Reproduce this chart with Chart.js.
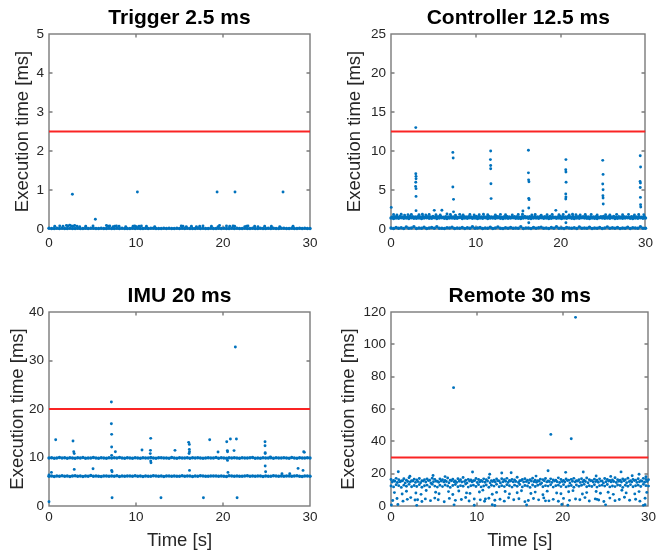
<!DOCTYPE html>
<html>
<head>
<meta charset="utf-8">
<title>Task execution times</title>
<script src="https://cdn.jsdelivr.net/npm/chart.js@4/dist/chart.umd.min.js"></script>
<style>
  html, body { margin: 0; padding: 0; background: #fff; }
  #wrap { position: relative; width: 659px; height: 556px; }
  #wrap canvas { position: absolute; }
</style>
</head>
<body>
<div id="wrap">
  <canvas id="trigger" width="330" height="278" style="left:0;top:0"></canvas>
  <canvas id="controller" width="329" height="278" style="left:330px;top:0"></canvas>
  <canvas id="imu" width="330" height="278" style="left:0;top:278px"></canvas>
  <canvas id="remote" width="329" height="278" style="left:330px;top:278px"></canvas>
</div>
<script>
// ---- sampling instants used for the steady bands [s] ----
const sampleTimes = [0,0.3,0.6,0.9,1.2,1.5,1.8,2.1,2.4,2.7,3,3.3,3.6,3.9,4.2,4.5,4.8,5.1,5.4,5.7,6,6.3,6.6,6.9,7.2,7.5,7.8,8.1,8.4,8.7,9,9.3,9.6,9.9,10.2,10.5,10.8,11.1,11.4,11.7,12,12.3,12.6,12.9,13.2,13.5,13.8,14.1,14.4,14.7,15,15.3,15.6,15.9,16.2,16.5,16.8,17.1,17.4,17.7,18,18.3,18.6,18.9,19.2,19.5,19.8,20.1,20.4,20.7,21,21.3,21.6,21.9,22.2,22.5,22.8,23.1,23.4,23.7,24,24.3,24.6,24.9,25.2,25.5,25.8,26.1,26.4,26.7,27,27.3,27.6,27.9,28.2,28.5,28.8,29.1,29.4,29.7,30];
const sampleTimesB = [0.15,0.45,0.75,1.05,1.35,1.65,1.95,2.25,2.55,2.85,3.15,3.45,3.75,4.05,4.35,4.65,4.95,5.25,5.55,5.85,6.15,6.45,6.75,7.05,7.35,7.65,7.95,8.25,8.55,8.85,9.15,9.45,9.75,10.05,10.35,10.65,10.95,11.25,11.55,11.85,12.15,12.45,12.75,13.05,13.35,13.65,13.95,14.25,14.55,14.85,15.15,15.45,15.75,16.05,16.35,16.65,16.95,17.25,17.55,17.85,18.15,18.45,18.75,19.05,19.35,19.65,19.95,20.25,20.55,20.85,21.15,21.45,21.75,22.05,22.35,22.65,22.95,23.25,23.55,23.85,24.15,24.45,24.75,25.05,25.35,25.65,25.95,26.25,26.55,26.85,27.15,27.45,27.75,28.05,28.35,28.65,28.95,29.25,29.55,29.85];

// ---- Trigger task (deadline 2.5 ms) ----
const triggerDeadline = 2.5;
const triggerBand = [0.02,0.01,0.01,0.02,0.01,0.02,0.01,0.01,0.02,0.01,0.01,0.02,0.01,0.01,0.02,0.01,0.02,0.02,0.01,0.01,0.02,0.01,0.01,0.02,0.01,0.01,0.02,0.01,0.02,0.01,0.01,0.01,0.02,0.01,0.02,0.01,0.01,0.02,0.01,0.02,0.02,0.01,0.01,0.01,0.02,0.01,0.02,0.01,0.01,0.02,0.01,0.02,0.01,0.02,0.01,0.01,0.01,0.02,0.01,0.02,0.01,0.01,0.02,0.01,0.01,0.02,0.01,0.02,0.01,0.01,0.02,0.01,0.02,0.01,0.01,0.02,0.01,0.01,0.02,0.01,0.01,0.02,0.01,0.01,0.02,0.01,0.02,0.01,0.01,0.02,0.02,0.01,0.01,0.02,0.01,0.01,0.02,0.01,0.02,0.01,0.01];
const triggerOutT = [0.66,1.23,1.61,2.0,2.18,2.38,2.57,2.76,2.95,3.22,3.53,4.22,5.06,6.6,6.78,6.98,7.36,7.55,7.75,8.05,8.82,9.66,9.85,10.05,10.35,10.62,11.2,12.15,15.2,15.4,15.78,16.37,16.94,17.32,17.7,18.67,19.43,19.6,20.4,20.77,21.15,21.34,22.5,22.7,22.87,23.64,24.02,24.79,25.56,26.52,28.05,2.69,10.16,19.32,21.38,26.9,5.33];
const triggerOutV = [0.07,0.08,0.07,0.09,0.08,0.1,0.08,0.07,0.09,0.07,0.06,0.07,0.08,0.09,0.07,0.08,0.06,0.07,0.08,0.07,0.06,0.07,0.08,0.06,0.07,0.08,0.07,0.06,0.08,0.07,0.06,0.07,0.06,0.07,0.08,0.07,0.06,0.09,0.08,0.07,0.08,0.07,0.06,0.07,0.08,0.07,0.06,0.07,0.07,0.06,0.07,0.89,0.95,0.95,0.95,0.95,0.25];

// ---- Controller task (deadline 12.5 ms) ----
const controllerDeadline = 12.5;
const controllerLow = [0.12,0.08,0.2,0.1,0.15,0.06,0.25,0.1,0.12,0.3,0.08,0.14,0.1,0.22,0.07,0.12,0.18,0.09,0.28,0.11,0.1,0.06,0.16,0.12,0.24,0.08,0.13,0.1,0.2,0.07,0.15,0.11,0.3,0.09,0.12,0.18,0.06,0.14,0.1,0.22,0.08,0.12,0.26,0.1,0.07,0.16,0.11,0.2,0.09,0.13,0.1,0.28,0.08,0.14,0.12,0.06,0.19,0.1,0.15,0.24,0.09,0.12,0.07,0.18,0.11,0.3,0.1,0.14,0.08,0.2,0.12,0.09,0.16,0.06,0.25,0.11,0.13,0.1,0.22,0.08,0.14,0.1,0.18,0.07,0.12,0.27,0.09,0.15,0.11,0.2,0.08,0.13,0.1,0.24,0.06,0.16,0.12,0.09,0.3,0.11,0.1];
const controllerMidA = [1.4,1.36,1.42,1.38,1.44,1.37,1.41,1.35,1.43,1.39,1.38,1.42,1.36,1.4,1.45,1.37,1.39,1.43,1.36,1.41,1.44,1.38,1.35,1.4,1.42,1.37,1.39,1.46,1.36,1.41,1.39,1.43,1.37,1.4,1.35,1.42,1.38,1.44,1.36,1.4,1.41,1.37,1.43,1.39,1.36,1.42,1.38,1.4,1.45,1.37,1.39,1.35,1.41,1.43,1.38,1.36,1.4,1.42,1.37,1.44,1.38,1.41,1.36,1.39,1.43,1.37,1.4,1.35,1.42,1.38,1.44,1.39,1.36,1.41,1.37,1.43,1.4,1.38,1.35,1.42,1.39,1.36,1.44,1.4,1.37,1.41,1.38,1.43,1.36,1.39,1.42,1.37,1.4,1.45,1.38,1.36,1.41,1.39,1.43,1.37,1.4];
const controllerMidB = [1.55,1.58,1.52,1.6,1.54,1.57,1.51,1.59,1.56,1.53,1.58,1.54,1.61,1.52,1.57,1.55,1.6,1.53,1.56,1.59,1.52,1.57,1.55,1.6,1.54,1.58,1.51,1.56,1.59,1.53,1.57,1.55,1.52,1.6,1.56,1.54,1.58,1.53,1.61,1.55,1.54,1.59,1.56,1.52,1.57,1.6,1.55,1.53,1.58,1.56,1.51,1.57,1.59,1.54,1.56,1.52,1.6,1.55,1.58,1.53,1.56,1.54,1.61,1.57,1.52,1.55,1.59,1.56,1.53,1.58,1.55,1.6,1.52,1.57,1.54,1.56,1.59,1.53,1.57,1.55,1.58,1.52,1.56,1.6,1.54,1.57,1.53,1.59,1.55,1.56,1.53,1.58,1.55,1.51,1.57,1.6,1.54,1.56,1.52,1.58];
const controllerTopT = [0.3,0.7,1.2,1.6,2.0,2.4,3.3,3.7,4.1,4.5,5.3,5.8,6.6,7.0,7.6,8.1,8.5,9.3,9.8,10.4,10.9,11.4,12.3,12.9,13.5,14.3,15.0,15.5,16.6,17.0,17.7,18.4,19.0,19.8,20.3,21.0,21.4,21.8,22.3,22.9,23.6,24.3,25.3,25.8,26.6,27.3,28.0,28.7,29.2,29.8];
const controllerTopV = [1.85,1.8,1.9,1.78,1.84,1.88,1.82,1.9,1.79,1.86,1.83,1.8,1.92,1.85,1.78,1.88,1.81,1.86,1.8,1.84,1.9,1.82,1.79,1.87,1.83,1.8,1.86,1.9,1.81,1.85,1.78,1.84,1.88,1.82,1.86,1.8,1.9,1.83,1.79,1.85,1.87,1.81,1.84,1.8,1.88,1.82,1.86,1.79,1.85,1.83];
const controllerSpikeT = [2.92,2.92,2.95,2.95,2.92,2.9,2.95,2.95,2.95,7.29,7.33,7.29,7.37,7.37,11.75,11.72,11.75,11.75,11.78,11.8,16.2,16.2,16.22,16.26,16.24,16.28,16.24,16.24,20.62,20.6,20.62,20.64,20.6,20.62,20.6,20.64,20.62,24.96,25.0,24.96,25.0,24.98,25.0,25.02,29.38,29.42,29.36,29.4,29.38,29.4,29.42,29.44,0.03,5.1,6.0,15.55,19.43];
const controllerSpikeV = [13.0,7.09,6.75,6.45,6.0,5.46,5.17,4.18,2.35,9.82,9.1,5.38,3.8,2.2,10.0,8.9,8.15,7.73,5.8,3.9,10.1,7.2,6.3,6.06,3.93,3.76,2.7,0.8,8.9,7.6,7.3,6.0,4.5,4.1,3.85,2.2,0.8,8.8,7.0,5.77,5.04,4.27,3.97,3.2,9.4,7.95,6.1,5.9,5.33,4.05,3.12,2.82,2.77,2.39,2.4,2.3,2.39];

// ---- IMU task (deadline 20 ms) ----
const imuDeadline = 20;
const imuBandHigh = [9.9,9.95,9.85,9.92,10.0,9.88,9.93,9.86,9.97,9.9,9.84,9.94,9.9,9.98,9.87,9.92,9.89,10.02,9.91,9.86,9.95,9.9,9.83,9.96,9.89,9.93,9.88,9.99,9.9,9.85,9.94,9.91,9.87,9.97,9.9,9.86,9.95,9.92,9.88,10.01,9.9,9.85,9.93,9.96,9.89,9.91,9.84,9.98,9.92,9.87,9.94,9.9,9.88,9.95,9.86,9.93,9.9,9.97,9.89,9.85,9.92,9.96,9.88,9.91,9.99,9.87,9.94,9.9,9.86,9.93,9.89,9.95,9.9,9.84,9.97,9.91,9.88,9.93,10.0,9.87,9.92,9.86,9.95,9.9,9.89,9.94,9.85,9.96,9.91,9.88,9.93,9.9,9.87,9.98,9.92,9.86,9.94,9.89,9.91,9.95,9.9];
const imuBandLow = [6.15,6.2,6.1,6.18,6.12,6.25,6.14,6.19,6.08,6.16,6.22,6.13,6.17,6.1,6.2,6.15,6.27,6.11,6.18,6.14,6.09,6.21,6.16,6.12,6.19,6.15,6.24,6.1,6.17,6.13,6.2,6.16,6.11,6.23,6.14,6.18,6.09,6.2,6.15,6.12,6.26,6.17,6.13,6.19,6.1,6.16,6.21,6.14,6.18,6.11,6.15,6.22,6.12,6.17,6.2,6.09,6.16,6.13,6.25,6.18,6.14,6.11,6.19,6.16,6.21,6.12,6.17,6.15,6.1,6.23,6.18,6.13,6.2,6.15,6.11,6.17,6.24,6.14,6.19,6.12,6.16,6.2,6.1,6.18,6.15,6.13,6.22,6.17,6.11,6.19,6.14,6.21,6.16,6.12,6.18,6.25,6.15,6.1,6.17,6.2,6.15];
const imuOutT = [0,0.28,0.77,0,2.76,2.84,2.9,2.9,5.06,7.17,7.17,7.2,7.2,7.2,7.2,7.25,7.25,7.63,10.69,11.69,11.66,11.64,11.69,11.72,12.87,14.48,16.05,16.13,16.13,16.15,16.1,16.15,17.75,18.47,19.43,20.43,20.5,20.52,20.52,20.57,20.85,21.27,21.42,21.54,21.62,24.83,24.83,24.85,24.85,24.85,24.9,25.45,26.78,27.67,28.63,29.2,29.28,29.35];
const imuOutV = [0.89,6.93,13.67,6.4,13.4,11.2,10.8,7.55,7.69,21.43,16.97,14.77,12.16,10.44,7.34,7.07,1.71,11.2,11.55,13.95,11.47,10.8,9.28,8.93,1.71,11.47,13.12,12.7,11.67,11.2,10.84,7.34,1.71,13.67,11.13,13.24,11.42,11.2,9.4,6.93,13.8,11.42,32.78,13.8,1.71,13.24,12.41,10.8,11.0,8.25,7.07,10.1,6.66,6.66,7.75,7.34,11.2,11.06];

// ---- Remote task (deadline 30 ms) ----
const remoteDeadline = 30;
const remoteTopA = [16.4,15.8,17.1,16.2,15.5,16.9,16.0,17.4,15.7,16.6,16.1,17.0,15.6,16.3,16.8,15.9,17.2,16.5,15.4,16.7,16.2,15.8,17.3,16.0,16.6,15.5,16.9,16.3,17.6,15.9,16.5,16.1,15.6,17.0,16.4,15.8,16.8,16.2,17.5,15.7,16.0,16.7,15.5,16.9,16.3,17.1,15.8,16.5,16.1,17.8,15.6,16.4,16.9,15.9,16.2,17.2,16.0,15.7,16.6,16.3,17.0,15.5,16.8,16.1,15.9,17.4,16.4,15.8,16.7,16.0,16.5,17.1,15.6,16.2,16.9,15.9,17.3,16.3,15.7,16.6,16.0,16.8,15.5,17.0,16.4,15.8,16.1,17.5,16.2,15.9,16.7,16.3,17.2,15.6,16.5,16.0,16.9,15.7,17.1,16.4,16.2];
const remoteTopB = [14.8,15.3,14.5,15.0,15.6,14.3,15.2,14.9,15.5,14.6,15.1,14.4,15.4,14.8,15.7,14.2,15.0,15.3,14.7,15.5,14.9,15.2,14.4,15.6,15.0,14.6,15.3,14.8,15.1,14.3,15.4,14.9,15.7,14.5,15.0,15.2,14.7,15.5,14.4,15.1,14.8,15.6,14.3,15.0,15.3,14.6,15.4,14.9,15.2,14.5,15.7,14.8,15.1,14.4,15.5,15.0,14.7,15.3,14.2,15.6,14.9,15.2,14.6,15.4,15.0,14.5,15.1,14.8,15.7,14.3,15.3,14.9,15.5,14.6,15.0,15.2,14.4,15.6,14.8,15.1,14.7,15.4,14.3,15.0,15.5,14.9,15.2,14.5,15.3,14.8,15.6,14.4,15.1,14.9,15.7,14.6,15.0,15.3,14.7,15.2];
const remoteMid = [12.4,11.8,13.1,12.6,11.5,12.9,12.2,13.4,11.9,12.7,12.1,13.2,11.6,12.5,12.9,11.8,13.5,12.3,11.7,12.8,12.0,13.0,12.4,11.5,12.7,13.3,11.9,12.6,12.2,13.6,11.7,12.5,12.9,12.1,13.2,11.8,12.4,13.0,11.6,12.8,12.3,13.4,11.9,12.6,12.0,13.1,12.5,11.7,12.9,12.2,13.3,11.8,12.7,12.4,11.5,13.0,12.1,12.8,13.5,11.9,12.6,12.3,13.1,11.7,12.5,12.9,12.0,13.2,11.8,12.4,12.7,11.6,13.0,12.2,12.8,13.4,11.9,12.5,12.1,13.1,11.7,12.6,12.9,12.3,13.3,11.8,12.4,12.0,13.0,12.7,11.5,12.8,12.2,13.2,11.9,12.5,12.9,12.1,13.4,12.6,12.3];
const remoteLowT = [0.4,1.3,1.8,2.9,3.5,4.1,5.2,5.6,6.7,7.2,7.9,8.8,9.2,10.3,10.7,11.8,12.3,13.3,13.8,14.7,15.2,16.3,16.8,17.7,18.2,19.3,19.8,20.7,21.2,22.3,22.8,23.9,24.4,25.3,25.9,26.9,27.4,28.4,28.9,29.8];
const remoteLowV = [8.3,7.4,9.1,8.0,7.2,9.6,8.5,7.6,8.9,7.1,9.3,8.1,7.8,8.7,9.8,7.3,8.4,9.0,7.5,8.2,9.4,7.7,8.6,7.0,9.2,8.0,7.6,8.8,9.5,7.4,8.3,9.0,7.9,8.5,7.2,9.7,8.1,7.5,8.9,8.4];
const remoteFloorT = [0.2,0.7,1.4,1.9,2.3,2.8,3.6,4.0,4.6,5.1,5.5,6.2,6.8,7.5,8.2,8.7,9.1,9.7,10.4,10.9,11.4,12.1,12.7,13.2,13.7,14.3,14.9,15.6,16.0,16.6,17.2,17.8,18.4,18.9,19.5,20.1,20.8,21.5,22.0,22.6,23.1,23.8,24.2,24.8,25.5,26.1,26.6,27.2,27.8,28.5,29.0,29.6,3.1,11.0,18.0,24.0];
const remoteFloorV = [3.4,4.6,3.0,4.1,5.2,3.7,2.8,4.4,3.3,4.9,3.9,2.6,4.7,3.5,4.0,5.3,3.1,4.3,3.8,2.9,4.8,3.6,4.2,3.0,5.1,3.9,4.5,2.7,3.4,4.6,3.8,5.0,3.2,4.1,2.9,4.7,3.5,4.3,3.9,5.2,3.1,4.4,3.7,2.8,4.9,3.3,4.0,5.4,3.6,4.2,3.0,4.8,3.9,4.4,3.2,4.1];
const remoteZeroT = [0.05,0.8,3.0,7.35,9.7,11.8,12.1,15.8,19.9,20.6,25.0,29.4,29.6];
const remoteZeroV = [0.6,0.9,0.4,0.7,0.5,0.8,0.3,0.6,0.9,0.5,0.7,0.4,0.8];
const remoteUpT = [0.85,2.2,4.9,6.3,9.5,11.5,12.9,14.0,16.9,18.3,20.35,22.4,23.9,25.6,26.8,28.1,28.9,29.7];
const remoteUpV = [21.2,18.4,18.9,18.2,21.0,19.6,20.4,20.6,18.5,21.8,20.8,21.0,18.6,18.3,21.1,18.7,19.6,18.1];
const remoteOutT = [7.29,18.62,21.0,21.5];
const remoteOutV = [73.2,44.3,41.6,116.7];

// ---- axis ticks ----
const timeTicks = [0, 10, 20, 30];

// ---- styling ----
const FONT = '"Liberation Sans", Arial, Helvetica, sans-serif';
const BLUE = '#0072BD';
const RED = 'rgb(250,36,36)';
const TEXT = '#262626';
const AXIS = '#7a7a7a';
const TICK_LEN = 3.5;
const DOT = 1.45;   // scattered samples
const BAND = 1.75;  // densely packed samples

function points(xs, ys) {
  return xs.map((x, i) => ({ x: x, y: ys[i] }));
}

// MATLAB-like box with inward tick marks on all four sides, drawn under the samples
const boxFrame = {
  id: 'boxFrame',
  beforeDatasetsDraw(chart) {
    const { ctx, chartArea: a, scales: { x, y } } = chart;
    const L = Math.round(a.left), R = Math.round(a.right);
    const T = Math.round(a.top), B = Math.round(a.bottom);
    ctx.save();
    ctx.strokeStyle = AXIS;
    ctx.lineWidth = 1.4;
    ctx.strokeRect(L, T, R - L, B - T);
    ctx.beginPath();
    x.ticks.forEach(t => {
      const p = Math.round(x.getPixelForValue(t.value));
      if (p <= L + 1 || p >= R - 1) return;
      ctx.moveTo(p, B); ctx.lineTo(p, B - TICK_LEN);
      ctx.moveTo(p, T); ctx.lineTo(p, T + TICK_LEN);
    });
    y.ticks.forEach(t => {
      const p = Math.round(y.getPixelForValue(t.value));
      if (p <= T + 1 || p >= B - 1) return;
      ctx.moveTo(L, p); ctx.lineTo(L + TICK_LEN, p);
      ctx.moveTo(R, p); ctx.lineTo(R - TICK_LEN, p);
    });
    ctx.stroke();
    ctx.restore();
  }
};

function drawPanel(id, cfg) {
  const datasets = cfg.series.map(([xs, ys, r]) => ({
    type: 'scatter',
    data: points(xs, ys),
    pointRadius: r,
    pointHoverRadius: r,
    pointBackgroundColor: BLUE,
    pointBorderWidth: 0,
    clip: false,
    order: 1
  }));
  datasets.push({
    type: 'line',
    data: [{ x: timeTicks[0], y: cfg.deadline }, { x: timeTicks[timeTicks.length - 1], y: cfg.deadline }],
    borderColor: RED,
    borderWidth: 2,
    pointRadius: 0,
    fill: false,
    order: 0
  });

  new Chart(document.getElementById(id), {
    type: 'scatter',
    data: { datasets },
    plugins: [boxFrame],
    options: {
      responsive: false,
      animation: false,
      events: [],
      layout: { padding: { left: 0, right: cfg.padRight, top: 0, bottom: 0 } },
      plugins: {
        legend: { display: false },
        tooltip: { enabled: false },
        title: {
          display: true,
          text: cfg.title,
          fullSize: false,
          color: '#000',
          font: { family: FONT, size: 21, weight: 'bold', lineHeight: 1.2 },
          padding: { top: 5.5, bottom: 3.3 }
        }
      },
      scales: {
        x: {
          type: 'linear',
          min: timeTicks[0],
          max: timeTicks[timeTicks.length - 1],
          afterFit(s) { s.height = cfg.xHeight; },
          afterBuildTicks(s) { s.ticks = timeTicks.map(v => ({ value: v })); },
          grid: { display: false, drawTicks: false },
          border: { display: false },
          ticks: { color: TEXT, font: { family: FONT, size: 13.5 }, padding: cfg.xTickPad, maxRotation: 0 },
          title: {
            display: !!cfg.xTitle,
            text: cfg.xTitle || '',
            color: TEXT,
            font: { family: FONT, size: 18.5, lineHeight: 1.2 },
            padding: { top: 0, bottom: 4 }
          }
        },
        y: {
          type: 'linear',
          min: 0,
          max: cfg.yMax,
          afterFit(s) { s.width = cfg.yWidth; },
          afterBuildTicks(s) { s.ticks = cfg.yTicks.map(v => ({ value: v })); },
          grid: { display: false, drawTicks: false },
          border: { display: false },
          ticks: { color: TEXT, font: { family: FONT, size: 13.5 }, padding: 5 },
          title: {
            display: true,
            text: 'Execution time [ms]',
            color: TEXT,
            font: { family: FONT, size: 18.5, lineHeight: 1.2 },
            padding: { top: cfg.yTitlePad, bottom: 0 }
          }
        }
      }
    }
  });
}

drawPanel('trigger', {
  title: 'Trigger 2.5 ms',
  deadline: triggerDeadline,
  yMax: 5, yTicks: [0, 1, 2, 3, 4, 5],
  series: [[sampleTimes, triggerBand, BAND], [triggerOutT, triggerOutV, DOT]],
  padRight: 20, yWidth: 49, yTitlePad: 12, xHeight: 49, xTickPad: 6
});

drawPanel('controller', {
  title: 'Controller 12.5 ms',
  deadline: controllerDeadline,
  yMax: 25, yTicks: [0, 5, 10, 15, 20, 25],
  series: [[sampleTimes, controllerLow, BAND], [sampleTimes, controllerMidA, BAND], [sampleTimesB, controllerMidB, BAND],
           [controllerTopT, controllerTopV, DOT], [controllerSpikeT, controllerSpikeV, DOT]],
  padRight: 8, yWidth: 61, yTitlePad: 14, xHeight: 49, xTickPad: 6
});

drawPanel('imu', {
  title: 'IMU 20 ms',
  deadline: imuDeadline,
  yMax: 40, yTicks: [0, 10, 20, 30, 40],
  series: [[sampleTimes, imuBandHigh, BAND], [sampleTimes, imuBandLow, BAND], [imuOutT, imuOutV, DOT]],
  padRight: 20, yWidth: 49, yTitlePad: 7, xHeight: 50, xTickPad: 3, xTitle: 'Time [s]'
});

drawPanel('remote', {
  title: 'Remote 30 ms',
  deadline: remoteDeadline,
  yMax: 120, yTicks: [0, 20, 40, 60, 80, 100, 120],
  series: [[sampleTimes, remoteTopA, DOT], [sampleTimesB, remoteTopB, DOT], [sampleTimes, remoteMid, DOT],
           [remoteLowT, remoteLowV, DOT], [remoteFloorT, remoteFloorV, DOT], [remoteZeroT, remoteZeroV, DOT],
           [remoteUpT, remoteUpV, DOT], [remoteOutT, remoteOutV, DOT]],
  padRight: 8, yWidth: 61, yTitlePad: 8, xHeight: 50, xTickPad: 3, xTitle: 'Time [s]'
});
</script>
</body>
</html>
